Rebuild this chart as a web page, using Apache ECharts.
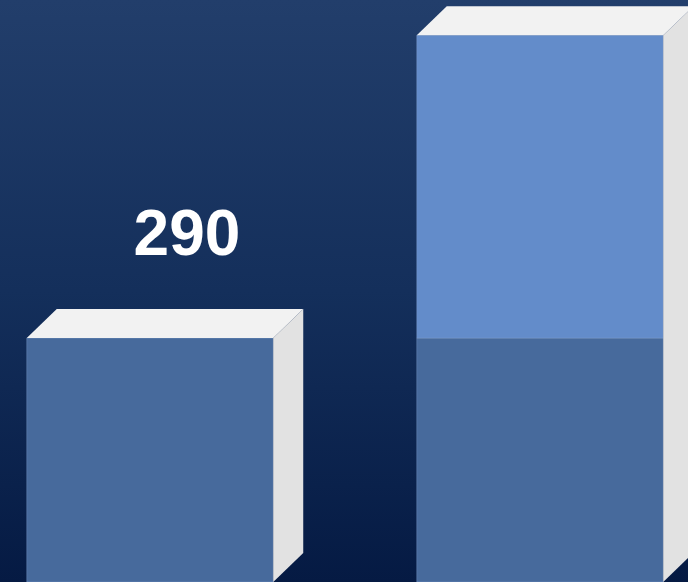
<!DOCTYPE html>
<html>
<head>
<meta charset="utf-8">
<style>
  html, body { margin: 0; padding: 0; background: #0b2149; }
  #chart { width: 688px; height: 582px; }
</style>
<script src="https://cdn.jsdelivr.net/npm/echarts@6/dist/echarts.min.js"></script>
</head>
<body>
<div id="chart"></div>
<script>
// Categories and stacked values
const categories = ['A', 'B'];
const baseValues = [290, 290];   // lower segment of each column
const upperValues = [0, 360];    // segment stacked on top
const showLabel = [true, false];  // value label above the column

// Visual constants for the box look
const DEPTH_X = 30;
const DEPTH_Y = 29;
const FRONT_LOW = '#476a9c';
const FRONT_HIGH = '#638cca';
const TOP_FACE = '#f2f2f2';
const SIDE_FACE = '#e2e2e2';

// Draws one segment of a box column from `from` to `to` on the value axis;
// the topmost segment also draws the lid and the full-height side face.
function makeBoxRenderer(getFrom, getTo, color, isTopSegment) {
  return function (params, api) {
    const i = api.value(0);
    const from = getFrom(i);
    const to = getTo(i);
    if (to <= from) return null;
    const band = api.size([1, 0])[0];
    const w = band * 0.632;
    const pBase = api.coord([i, from]);
    const pTop = api.coord([i, to]);
    const pZero = api.coord([i, 0]);
    const x0 = pBase[0] - w / 2;
    const x1 = pBase[0] + w / 2;
    const yb = pBase[1];
    const yt = pTop[1];
    const y0 = pZero[1];
    const children = [
      {
        type: 'rect',
        shape: { x: x0, y: yt, width: w, height: yb - yt },
        style: { fill: color, stroke: 'rgba(140,170,215,0.35)', lineWidth: 1 }
      }
    ];
    if (isTopSegment(i)) {
      children.push({
        type: 'polygon',
        shape: { points: [[x1, y0], [x1 + DEPTH_X, y0 - DEPTH_Y], [x1 + DEPTH_X, yt - DEPTH_Y], [x1, yt]] },
        style: { fill: SIDE_FACE }
      });
      children.push({
        type: 'polygon',
        shape: { points: [[x0, yt], [x0 + DEPTH_X, yt - DEPTH_Y], [x1 + DEPTH_X, yt - DEPTH_Y], [x1, yt]] },
        style: { fill: TOP_FACE }
      });
      if (showLabel[i]) {
        children.push({
          type: 'text',
          x: pBase[0] + 37,
          y: yt - 101,
          style: {
            text: String(to),
            fill: '#ffffff',
            font: 'bold 64px "Liberation Sans", Arial, sans-serif',
            align: 'center',
            verticalAlign: 'middle'
          }
        });
      }
    }
    return { type: 'group', children: children };
  };
}

const chart = echarts.init(document.getElementById('chart'));
chart.setOption({
  animation: false,
  backgroundColor: {
    type: 'linear', x: 0, y: 0, x2: 0, y2: 1,
    colorStops: [
      { offset: 0, color: '#223e6b' },
      { offset: 0.5, color: '#142f5b' },
      { offset: 1, color: '#051a43' }
    ]
  },
  grid: { left: -45, right: -47, top: 0, bottom: 0, outerBoundsMode: 'none' },
  xAxis: {
    type: 'category',
    data: categories,
    show: false
  },
  yAxis: {
    type: 'value',
    min: 0,
    max: 692,
    show: false,
    splitLine: { show: false }
  },
  series: [
    {
      type: 'custom',
      clip: false,
      data: categories.map((c, i) => [i, baseValues[i]]),
      renderItem: makeBoxRenderer(
        i => 0,
        i => baseValues[i],
        FRONT_LOW,
        i => upperValues[i] <= 0
      )
    },
    {
      type: 'custom',
      clip: false,
      z: 3,
      data: categories.map((c, i) => [i, upperValues[i]]),
      renderItem: makeBoxRenderer(
        i => baseValues[i],
        i => baseValues[i] + upperValues[i],
        FRONT_HIGH,
        i => upperValues[i] > 0
      )
    }
  ]
});
</script>
</body>
</html>
